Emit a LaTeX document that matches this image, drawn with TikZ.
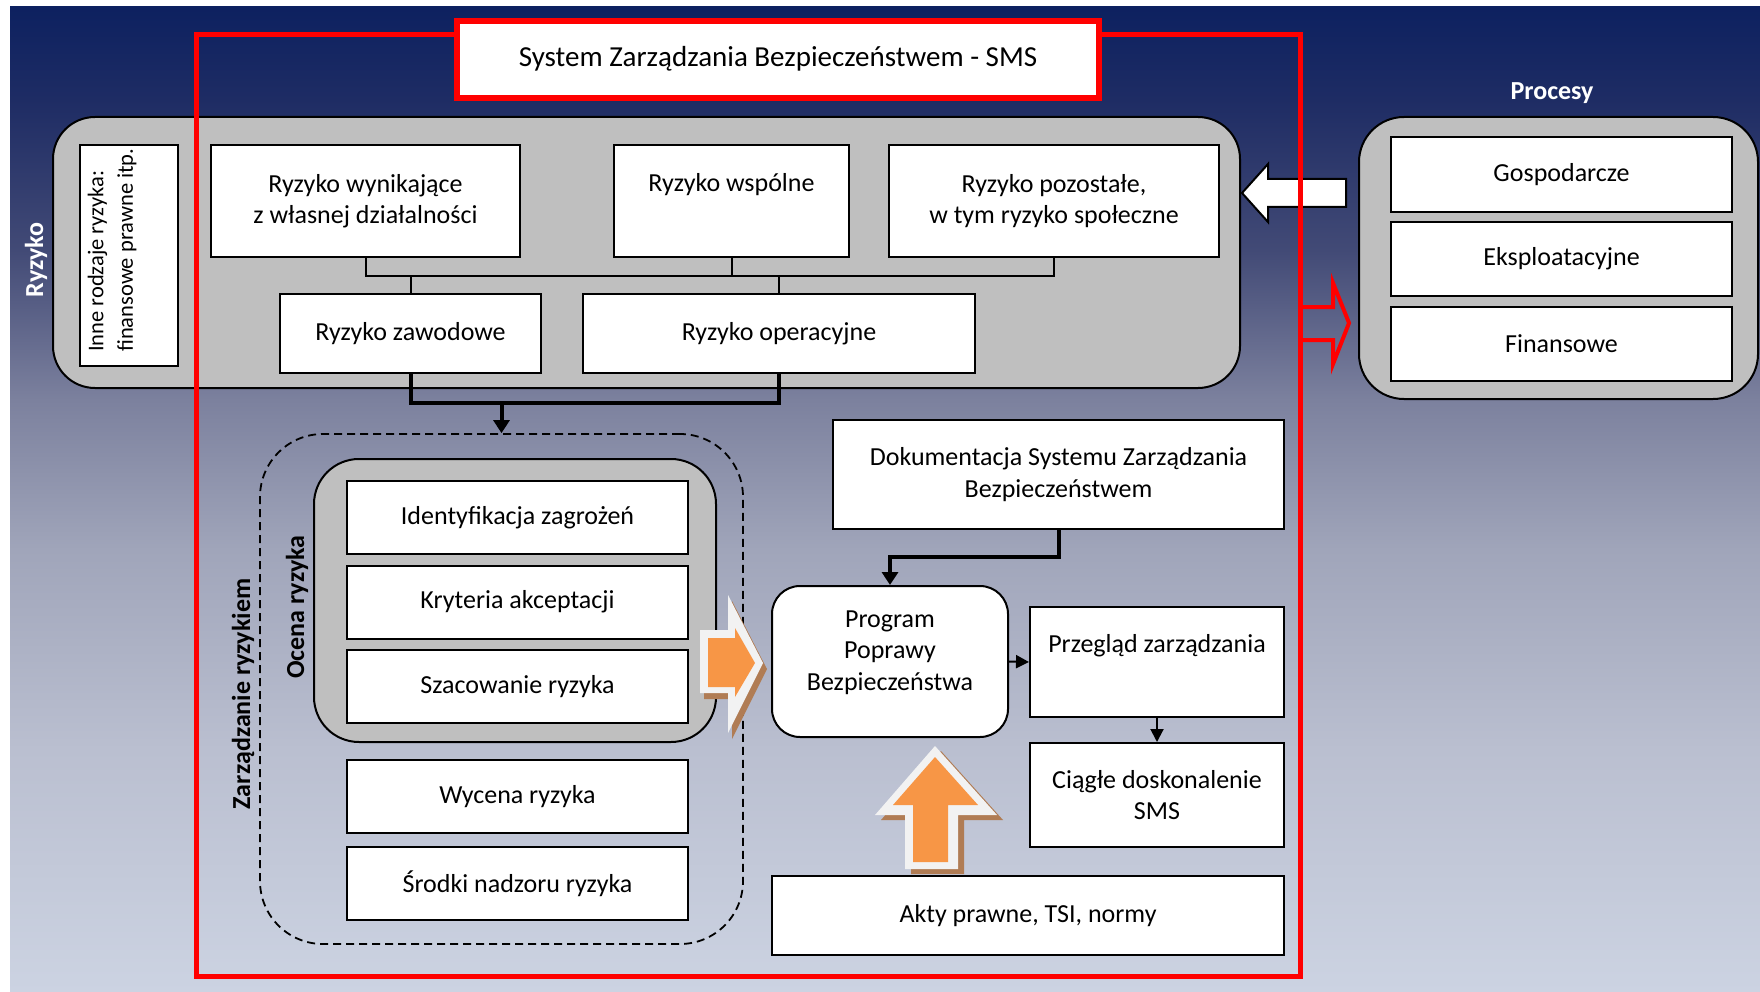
\documentclass[tikz,border=0pt]{standalone}
\usepackage{fontspec}
\setmainfont{Carlito}
\usetikzlibrary{arrows.meta}
\definecolor{bgA}{RGB}{204,211,226}
\definecolor{bgB}{RGB}{186,191,208}
\definecolor{bgC}{RGB}{160,165,186}
\definecolor{bgD}{RGB}{124,129,158}
\definecolor{bgE}{RGB}{66,74,118}
\definecolor{bgF}{RGB}{30,44,100}
\definecolor{bgG}{RGB}{13,33,96}
\definecolor{graybox}{RGB}{191,191,191}
\definecolor{orangef}{RGB}{247,150,70}
\definecolor{arrwhite}{RGB}{242,242,242}
\definecolor{shadowc}{RGB}{176,124,84}
\definecolor{redline}{RGB}{255,0,0}
\pgfdeclareverticalshading{bgshade}{100bp}{color(0bp)=(bgA); color(25bp)=(bgA); color(37.3bp)=(bgB); color(47.45bp)=(bgC); color(55.05bp)=(bgD); color(62.65bp)=(bgE); color(70.3bp)=(bgF); color(75bp)=(bgG); color(100bp)=(bgG)}
\begin{document}
\begin{tikzpicture}[x=1pt,y=-1pt,
 txt/.style={font=\fontsize{26}{31.5}\selectfont},
 wbox/.style={draw=black, line width=2pt, fill=white, inner sep=0pt, align=center, txt},
 gbox/.style={draw=black, line width=2pt, fill=graybox, inner sep=0pt},
 lbl/.style={font=\bfseries\fontsize{26}{31.5}\selectfont, inner sep=0pt},
 thinc/.style={line width=2pt},
 thickc/.style={line width=4pt},
 tiparrow/.style={-{Triangle[length=13pt,width=16pt]}},
 smallarrow/.style={-{Triangle[length=13pt,width=13pt]}},
]
\useasboundingbox (0,0) rectangle (1760,992);
\fill[white] (0,0) rectangle (1760,992);
\shade[shading=bgshade] (10,7) rectangle (1760,992);

% grey containers
\node[gbox, rounded corners=42pt, minimum width=1187pt, minimum height=271pt] (ryz) at (646.5,252.5) {};
\node[gbox, rounded corners=45pt, minimum width=399pt, minimum height=282pt] (proc) at (1558.5,258) {};
\node[lbl, text=white, rotate=90] (ryzl) at (36,260) {Ryzyko};
\node[lbl, text=white] (procl) at (1552,93) {Procesy};

% Ryzyko boxes
\node[wbox, minimum width=98pt, minimum height=221pt] (inne) at (129,255.5) {};
\node[rotate=90, anchor=west, align=left, inner sep=0pt, font=\fontsize{22.5}{29.5}\selectfont] (innet) at (112,352) {Inne rodzaje ryzyka:\\finansowe prawne itp.};
\node[wbox, minimum width=309pt, minimum height=112pt] (rw) at (365.5,201) {Ryzyko wynikające\\z własnej działalności};
\node[wbox, minimum width=235pt, minimum height=112pt] (rs) at (731.5,201) {\strut Ryzyko wspólne\\\strut};
\node[wbox, minimum width=330pt, minimum height=112pt] (rp) at (1054,201) {Ryzyko pozostałe,\\w tym ryzyko społeczne};
\node[wbox, minimum width=261pt, minimum height=79pt] (rz) at (410.5,333.5) {Ryzyko zawodowe};
\node[wbox, minimum width=392pt, minimum height=79pt] (ro) at (779,333.5) {Ryzyko operacyjne};

\coordinate (busy) at (0,276);
\draw[thinc] (rw.south) -- (rw.south |- busy) -- (rp.south |- busy) -- (rp.south);
\draw[thinc] (rs.south) -- (rs.south |- busy);
\draw[thinc] (rz.north) -- (rz.north |- busy);
\draw[thinc] (ro.north) -- (ro.north |- busy);

% Zarzadzanie ryzykiem
\node[draw=black, line width=1.8pt, dash pattern=on 8pt off 5pt, rounded corners=63pt, minimum width=483pt, minimum height=510pt, inner sep=0pt] (zr) at (501.5,689) {};
\coordinate (boty) at (0,403);
\draw[thickc] (rz.south) -- (rz.south |- boty) -- (ro.south |- boty) -- (ro.south);
\draw[thickc, tiparrow] (zr.north |- boty) -- (zr.north);

\node[gbox, rounded corners=45pt, minimum width=402pt, minimum height=283pt] (oc) at (515,600.5) {};
\node[lbl, rotate=90] (zrl) at (243,694) {Zarządzanie ryzykiem};
\node[lbl, rotate=90] (ocl) at (297,607) {Ocena ryzyka};

\node[wbox, minimum width=341pt, minimum height=73pt] (id) at (517.5,517.5) {Identyfikacja zagrożeń};
\node[wbox, minimum width=341pt, minimum height=73pt] (kr) at (517.5,602) {Kryteria akceptacji};
\node[wbox, minimum width=341pt, minimum height=73pt] (sz) at (517.5,686.5) {Szacowanie ryzyka};
\node[wbox, minimum width=341pt, minimum height=73pt] (wy) at (517.5,796.5) {Wycena ryzyka};
\node[wbox, minimum width=341pt, minimum height=73pt] (sr) at (517.5,883.5) {Środki nadzoru ryzyka};

% right part
\node[wbox, rounded corners=28pt, minimum width=236pt, minimum height=151pt] (prog) at (890,661.5) {};
\node[txt, align=center, inner sep=0pt] (progt) at (890,652.5) {Program\\Poprawy\\Bezpieczeństwa};
\node[wbox, minimum width=451pt, minimum height=109pt] (dok) at (1058.5,474.5) {Dokumentacja Systemu Zarządzania\\Bezpieczeństwem};
\node[wbox, minimum width=254pt, minimum height=110pt] (prz) at (1157,662) {\strut Przegląd zarządzania\\\strut};
\node[wbox, minimum width=254pt, minimum height=104pt] (cd) at (1157,795) {Ciągłe doskonalenie\\SMS};
\node[wbox, minimum width=512pt, minimum height=79pt] (akty) at (1028,915.5) {Akty prawne, TSI, normy};

\coordinate (dy) at (0,557);
\draw[thickc, tiparrow] (dok.south) -- (dok.south |- dy) -| (prog.north);
\draw[thinc, smallarrow] (prog.east) -- (prz.west);
\draw[thinc, smallarrow] (prz.south) -- (cd.north);

% Procesy boxes
\node[wbox, minimum width=341pt, minimum height=75pt] (gosp) at (1561.5,174.5) {Gospodarcze};
\node[wbox, minimum width=341pt, minimum height=74pt] (eksp) at (1561.5,259) {Eksploatacyjne};
\node[wbox, minimum width=341pt, minimum height=74pt] (fin) at (1561.5,344) {Finansowe};

% white block arrow
\draw[fill=white, line width=2pt] (1346,179) -- (1268,179) -- (1268,164) -- (1242,193) -- (1268,222) -- (1268,207) -- (1346,207) -- cycle;

% SMS frame
\draw[redline, line width=5pt] (196,35) rectangle (1300.5,976);
\draw[redline, line width=4pt] (1300,307) -- (1333,307) -- (1333,283) -- (1349,323) -- (1333,364) -- (1333,340) -- (1300,340);
\node[draw=redline, line width=6pt, fill=white, minimum width=642pt, minimum height=77pt, inner sep=0pt, font=\fontsize{29}{34}\selectfont] (title) at (778,59.5) {\raisebox{6pt}{System Zarządzania Bezpieczeństwem - SMS}};

% orange arrows
\begin{scope}[shift={(4,6)}]
\fill[shadowc] (700,630) -- (728,630) -- (728,595) -- (763,663) -- (728,733) -- (728,693) -- (700,693) -- cycle;
\end{scope}
\fill[arrwhite] (700,630) -- (728,630) -- (728,595) -- (763,663) -- (728,733) -- (728,693) -- (700,693) -- cycle;
\fill[orangef] (708,638) -- (735,638) -- (735,628) -- (755,663) -- (735,697) -- (735,687) -- (708,687) -- cycle;

\begin{scope}[shift={(6,5)}]
\fill[shadowc] (935,746) -- (997,815) -- (958,815) -- (958,869) -- (905,869) -- (905,815) -- (875,815) -- cycle;
\end{scope}
\fill[arrwhite] (935,746) -- (997,815) -- (958,815) -- (958,869) -- (905,869) -- (905,815) -- (875,815) -- cycle;
\fill[orangef] (935,757) -- (978,805) -- (948,805) -- (948,862) -- (913,862) -- (913,805) -- (893,805) -- cycle;
\end{tikzpicture}
\end{document}
